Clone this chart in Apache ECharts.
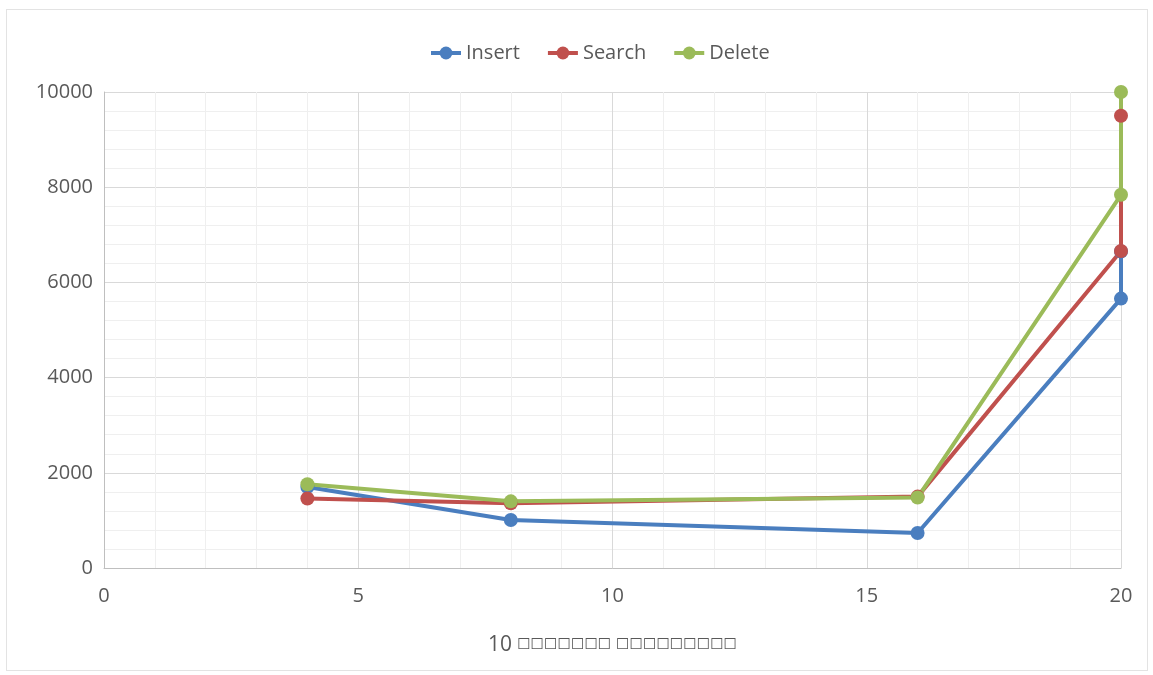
<!DOCTYPE html>
<html>
<head>
<meta charset="utf-8">
<script src="https://cdn.jsdelivr.net/npm/echarts@6/dist/echarts.min.js"></script>
<style>
html,body{margin:0;padding:0;background:#fff;}
#frame{position:absolute;left:6px;top:9px;width:1142px;height:662px;border:1px solid #e3e3e3;box-sizing:border-box;}
#chart{position:absolute;left:0;top:0;width:1153px;height:675px;}
</style>
</head>
<body>
<div id="frame"></div>
<div id="chart"></div>
<script>
const xValues = [4, 8, 16, 20, 20];
const insertValues = [1700, 1008, 735, 5660, 6650];
const searchValues = [1460, 1360, 1500, 6660, 9500];
const deleteValues = [1760, 1400, 1480, 7840, 10000];
const seriesNames = ['Insert', 'Search', 'Delete'];
const xTitleNumber = '10';
const xTitleWords = '☐☐☐☐☐☐☐ ☐☐☐☐☐☐☐☐☐';

const colors = ['#4a7ebf', '#c0504d', '#9bbb59'];
const pairs = v => xValues.map((x, i) => [x, v[i]]);
const font = '"Open Sans", "Noto Sans", sans-serif';

const chart = echarts.init(document.getElementById('chart'));
chart.setOption({
  animation: false,
  color: colors,
  textStyle: {fontFamily: font},
  legend: {
    top: 38, left: 424,
    itemWidth: 30, itemHeight: 16, itemGap: 26,
    textStyle: {color: '#595959', fontSize: 20, fontFamily: font},
    lineStyle: {width: 4},
    data: seriesNames
  },
  grid: {left: 104, right: 32, top: 92, bottom: 107},
  xAxis: {
    type: 'value', min: 0, max: 20, interval: 5,
    name: '{n|' + xTitleNumber + '} {b|' + xTitleWords + '}',
    nameLocation: 'middle', nameGap: 67,
    nameTextStyle: {
      color: '#595959', fontSize: 20, fontFamily: font,
      rich: {
        n: {color: '#595959', fontSize: 21, fontFamily: font},
        b: {color: '#595959', fontSize: 15, fontFamily: '"DejaVu Sans", sans-serif'}
      }
    },
    axisLine: {show: true, lineStyle: {color: '#bfbfbf', width: 1}},
    axisTick: {show: false},
    axisLabel: {color: '#595959', fontSize: 20, margin: 18, fontFamily: font},
    splitLine: {show: true, lineStyle: {color: '#d9d9d9'}},
    minorTick: {show: false, splitNumber: 5},
    minorSplitLine: {show: true, lineStyle: {color: '#efefef'}}
  },
  yAxis: {
    type: 'value', min: 0, max: 10000, interval: 2000,
    axisLine: {show: true, lineStyle: {color: '#bfbfbf', width: 1}},
    axisTick: {show: false},
    axisLabel: {color: '#595959', fontSize: 20, margin: 11, fontFamily: font, formatter: v => String(v)},
    splitLine: {show: true, lineStyle: {color: '#d9d9d9'}},
    minorTick: {show: false, splitNumber: 5},
    minorSplitLine: {show: true, lineStyle: {color: '#efefef'}}
  },
  series: [
    {name: seriesNames[0], type: 'line', data: pairs(insertValues), symbol: 'circle', symbolSize: 14, lineStyle: {width: 4}},
    {name: seriesNames[1], type: 'line', data: pairs(searchValues), symbol: 'circle', symbolSize: 14, lineStyle: {width: 4}},
    {name: seriesNames[2], type: 'line', data: pairs(deleteValues), symbol: 'circle', symbolSize: 14, lineStyle: {width: 4}}
  ]
});
</script>
</body>
</html>
